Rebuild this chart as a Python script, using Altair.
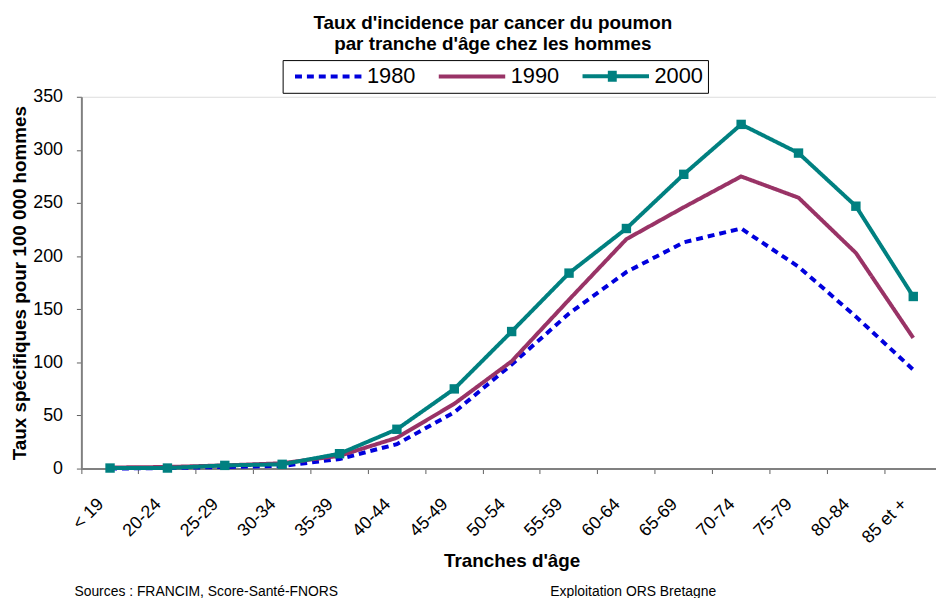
import altair as alt
import pandas as pd

# ---- data ----
ages = ["< 19", "20-24", "25-29", "30-34", "35-39", "40-44", "45-49", "50-54",
        "55-59", "60-64", "65-69", "70-74", "75-79", "80-84", "85 et +"]
series_names = ["1980", "1990", "2000"]
v1980 = [0, 0.5, 1.5, 2.5, 9, 23, 53, 98, 146, 185, 213, 226, 190, 143, 93]
v1990 = [1, 1.5, 3, 5, 12, 29, 61, 101, 159, 216, 246, 275, 255, 203, 123]
v2000 = [0.5, 0.5, 3, 4, 14, 37, 75, 129, 184, 226, 277, 324, 297, 247, 162]
y_ticks = [0, 50, 100, 150, 200, 250, 300, 350]

title_lines = ["Taux d'incidence par cancer du poumon",
               "par tranche d'âge chez les hommes"]
x_title = "Tranches d'âge"
y_title = "Taux spécifiques pour 100 000 hommes"
footer_left = ["Sources : FRANCIM, Score-Santé-FNORS"]
footer_right = ["Exploitation ORS Bretagne"]

colors = ["#0000DD", "#993366", "#008080"]
dashes = [[7, 5], [1, 0], [1, 0]]
widths = [4, 4, 2]

FONT = "Liberation Sans"

rows = []
for name, vals in zip(series_names, [v1980, v1990, v2000]):
    for a, v in zip(ages, vals):
        rows.append({"age": a, "series": name, "value": v})
df = pd.DataFrame(rows)

legend = alt.Legend(
    title=None, orient="none", legendX=203, legendY=-37, direction="horizontal",
    columns=3, strokeColor="black", fillColor="white", padding=5,
    labelFont=FONT, labelFontSize=22, labelColor="black", labelOffset=58,
    columnPadding=15, symbolSize=256,
    symbolType={"expr": "datum.value === '2000' ? "
                "'M-0.44,0H7.94M2.75,-0.4375H3.875M2.75,-0.219H3.875M2.75,0H3.875M2.75,0.219H3.875M2.75,0.4375H3.875'"
                " : 'M-0.44,0H7.94'"},
)

x_enc = alt.X(
    "age:N", sort=ages,
    scale=alt.Scale(type="band", domain=ages, paddingInner=0, paddingOuter=0),
    axis=alt.Axis(
        title=x_title, titleFont=FONT, titleFontSize=19, titleFontWeight="bold",
        titleColor="black", titleY=99, titleBaseline="alphabetic",
        labelAngle=-45, labelAlign="right", labelBaseline="middle",
        labelFont=FONT, labelFontSize=18, labelColor="black",
        labelOffset=-9, labelPadding=28, bandPosition=0,
        tickSize=5, tickColor="#606060", domainColor="#808080", domainWidth=2,
        grid=False, labelOverlap=False,
    ),
)
y_enc = alt.Y(
    "value:Q",
    scale=alt.Scale(domain=[0, 350], nice=False, zero=True),
    axis=alt.Axis(
        title=y_title, titleFont=FONT, titleFontSize=19, titleFontWeight="bold",
        titleColor="black", titleX=-62, titleBaseline="middle",
        values=y_ticks, labelFont=FONT, labelFontSize=18, labelColor="black",
        labelPadding=14, tickSize=5, tickColor="#606060",
        domainColor="#808080", domainWidth=2, grid=False,
    ),
)

lines = alt.Chart(df).mark_line(strokeCap="butt", strokeJoin="miter").encode(
    x=x_enc, y=y_enc,
    color=alt.Color("series:N", scale=alt.Scale(domain=series_names, range=colors), legend=legend),
    strokeDash=alt.StrokeDash("series:N", scale=alt.Scale(domain=series_names, range=dashes), legend=legend),
    strokeWidth=alt.StrokeWidth("series:N", scale=alt.Scale(domain=series_names, range=widths), legend=legend),
    order=alt.Order("series:N", sort="descending"),
)

squares = alt.Chart(df).transform_filter(alt.datum.series == "2000").mark_point(
    shape="square", filled=True, size=90, color="#008080", opacity=1
).encode(x=x_enc, y=y_enc)

foot_l = alt.Chart(pd.DataFrame({"t": footer_left})).mark_text(
    align="left", baseline="alphabetic", font=FONT, fontSize=14, color="black"
).encode(text="t:N", x=alt.value(-7), y=alt.value(504))

foot_r = alt.Chart(pd.DataFrame({"t": footer_right})).mark_text(
    align="left", baseline="alphabetic", font=FONT, fontSize=14, color="black"
).encode(text="t:N", x=alt.value(473), y=alt.value(504))

chart = alt.layer(lines, squares, foot_l, foot_r).properties(
    width=868, height=375,
    title=alt.TitleParams(
        text=title_lines, font=FONT, fontSize=19, fontWeight="bold", color="black",
        anchor="middle", dx=-19, offset=6, lineHeight=21,
    ),
    padding={"left": 74, "top": 87, "right": -6, "bottom": 128},
    autosize=alt.AutoSizeParams(type="none"),
).configure_view(
    stroke="#999999", strokeWidth=2
).configure(background="white")

chart.save("out.html", embed_options={"renderer": "svg", "actions": False})
